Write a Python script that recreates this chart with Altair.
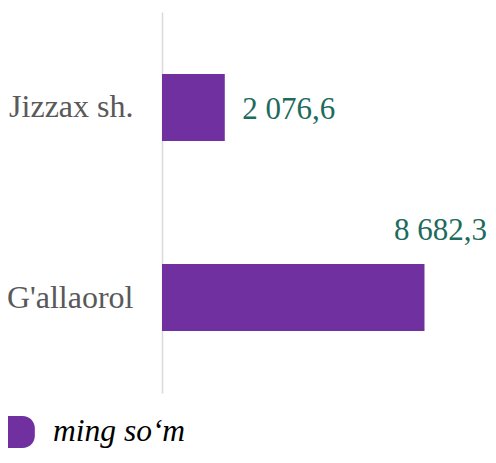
import altair as alt
import pandas as pd

categories = ["Jizzax sh.", "G'allaorol"]
values = [2076.6, 8682.3]
series = ["ming so‘m", "ming so‘m"]

df = pd.DataFrame({"region": categories, "value": values, "series": series})

FONT = "Liberation Serif"
BAR = "#7030A0"
LABEL = "#1d6b5c"

SWATCH = "M-1,-1H-0.093A0.77,0.77,0,0,1,0.677,-0.23V0.23A0.77,0.77,0,0,1,-0.093,1H-1Z"

y = alt.Y(
    "region:N",
    sort=categories,
    scale=alt.Scale(paddingInner=0.647, paddingOuter=0.326),
    axis=alt.Axis(
        title=None, ticks=False, domain=True, domainColor="#d9d9d9", domainWidth=1.5,
        labelFont=FONT, labelFontSize=32, labelColor="#595959", labelPadding=29, grid=False,
    ),
)
x = alt.X("value:Q", scale=alt.Scale(domain=[0, 10518], nice=False), axis=None)

base = alt.Chart(df).encode(y=y)

bars = base.mark_bar().encode(
    x=x,
    color=alt.Color(
        "series:N",
        scale=alt.Scale(range=[BAR]),
        legend=alt.Legend(
            title=None, orient="none", legendX=-154, legendY=404, padding=0,
            symbolType=SWATCH, symbolSize=1024, symbolStrokeWidth=0, symbolOpacity=1,
            labelFont=FONT, labelFontSize=31.5, labelFontStyle="italic", labelColor="#000000",
            labelOffset=13,
        ),
    ),
)

lab1 = base.mark_text(
    align="left", baseline="alphabetic", dx=17.5, dy=11.5, font=FONT, fontSize=31, color=LABEL
).encode(x=x, text=alt.Text("value:Q", format=",.1f")).transform_filter(
    alt.datum.region == categories[0]
)

lab2 = base.mark_text(
    align="right", baseline="alphabetic", dx=62.5, dy=-57.5, font=FONT, fontSize=31, color=LABEL
).encode(x=x, text=alt.Text("value:Q", format=",.1f")).transform_filter(
    alt.datum.region == categories[1]
)

chart = (
    alt.layer(bars, lab1, lab2)
    .properties(
        width=318, height=381,
        autosize=alt.AutoSizeParams(type="none"),
        padding={"left": 154, "top": 4, "right": 8, "bottom": 62},
        background="white",
    )
    .configure(locale={"number": {"decimal": ",", "thousands": " ", "grouping": [3], "currency": ["", ""]}})
    .configure_view(strokeWidth=0)
)

chart.save("out.html", embed_options={"renderer": "svg", "actions": False})
